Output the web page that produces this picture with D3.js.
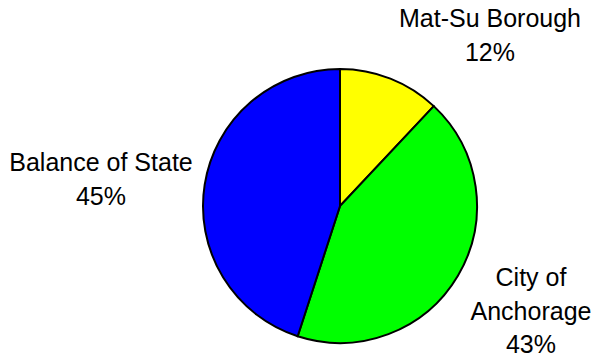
<!DOCTYPE html>
<html lang="en">
<head>
<meta charset="UTF-8">
<title>Population share</title>
<style>
  body { margin: 0; background: #fff; }
  svg { display: block; }
  .slice { stroke: #000; stroke-width: 2px; }
  .label { font-family: Arial, "Liberation Sans", sans-serif; font-size: 25px; fill: #000; }
</style>
</head>
<body>
<svg id="chart" width="594" height="358"></svg>
<script src="https://d3js.org/d3.v7.min.js"></script>
<script>
const regions = ["Mat-Su Borough", "City of Anchorage", "Balance of State"];
const shares = [12, 43, 45];
const colors = ["#ffff00", "#00ff00", "#0000ff"];
// label lines and where they sit (center x, first baseline)
const labelLines = [["Mat-Su Borough", "12%"], ["City of", "Anchorage", "43%"], ["Balance of State", "45%"]];
const labelPos = [[490, 27], [531, 286], [101, 171]];

const svg = d3.select("#chart");
const cx = 340, cy = 206, radius = 137;
const lineGap = 33.5;

const pie = d3.pie().sort(null).value(d => d)(shares);
const arc = d3.arc().innerRadius(0).outerRadius(radius);

const g = svg.append("g").attr("transform", `translate(${cx},${cy})`);
g.selectAll("path")
  .data(pie)
  .enter().append("path")
  .attr("class", "slice")
  .attr("d", arc)
  .attr("fill", (d, i) => colors[i]);

labelLines.forEach((lines, i) => {
  const t = svg.append("text")
    .attr("class", "label")
    .attr("text-anchor", "middle");
  lines.forEach((line, j) => {
    t.append("tspan")
      .attr("x", labelPos[i][0])
      .attr("y", labelPos[i][1] + j * lineGap)
      .text(line);
  });
});
</script>
</body>
</html>
